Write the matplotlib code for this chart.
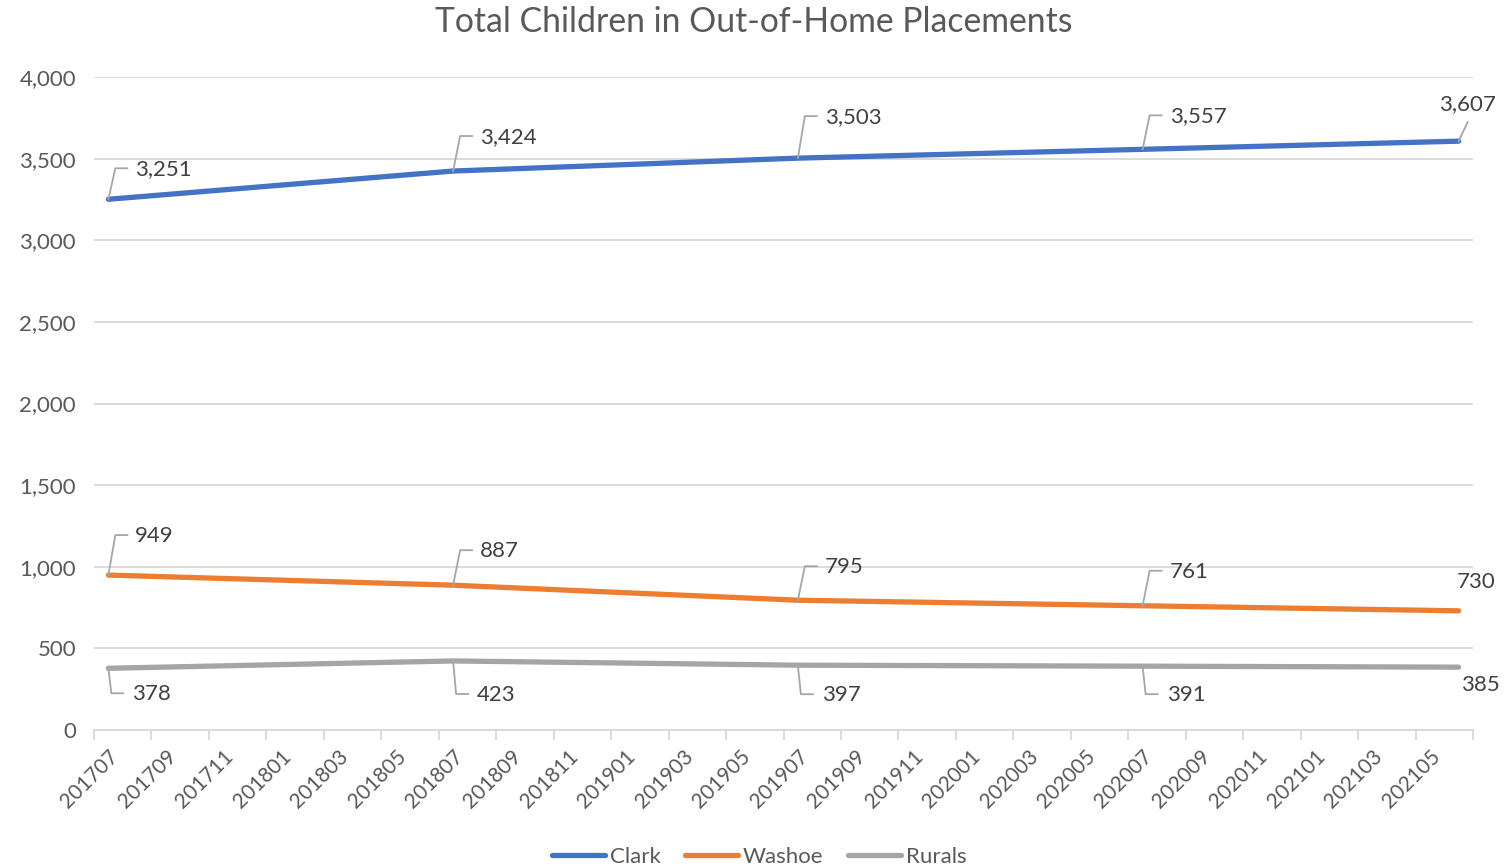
import matplotlib
matplotlib.use("Agg")
import matplotlib.pyplot as plt
import matplotlib.transforms as mtransforms
import pandas as pd

# categories on the x axis (every month, Excel-style category axis)
months = [p.strftime("%Y%m") for p in pd.period_range("2017-07", "2021-06", freq="M")]

# months that actually have values
point_months = ["201707", "201807", "201907", "202007", "202106"]

clark = [3251, 3424, 3503, 3557, 3607]
washoe = [949, 887, 795, 761, 730]
rurals = [378, 423, 397, 391, 385]

colors = {"Clark": "#4472C4", "Washoe": "#ED7D31", "Rurals": "#A5A5A5"}
text_col = "#595959"
label_col = "#404040"
grid_col = "#D9D9D9"
leader_col = "#A6A6A6"

# vertical label offsets in pixels (layout only, as Excel placed them)
clark_dy = [30, 34, 41, 33]
washoe_dy = [39, 34, 33, 34]
rurals_dy = [-26, -34, -30, -29]

plt.rcParams["font.family"] = ["Lato", "DejaVu Sans"]
FS = 16

fig = plt.figure(figsize=(15.09, 8.67), dpi=100)
ax = fig.add_axes([94 / 1509, 1 - 730 / 867, (1473 - 94) / 1509, (730 - 77) / 867])

xpos = [months.index(m) for m in point_months]

for name, vals in [("Clark", clark), ("Washoe", washoe), ("Rurals", rurals)]:
    ax.plot(xpos, vals, color=colors[name], lw=3.8, solid_capstyle="round",
            solid_joinstyle="round", label=name, zorder=3)


def leader(x, y, pts):
    # pts are pixel offsets from the data point
    tr = fig.dpi_scale_trans + mtransforms.ScaledTranslation(x, y, ax.transData)
    xs = [p[0] / 100 for p in pts]
    ys = [p[1] / 100 for p in pts]
    ax.plot(xs, ys, transform=tr, color=leader_col, lw=1.3, zorder=4, clip_on=False)


def label(x, y, v, dx, dy, ha="left"):
    ax.annotate(f"{v:,}", (x, y), xytext=(dx * 0.72, dy * 0.72), textcoords="offset points",
                ha=ha, va="center", fontsize=FS, color=label_col, zorder=5)


for i, (x, v) in enumerate(zip(xpos, clark)):
    if i < len(xpos) - 1:
        d = clark_dy[i]
        leader(x, v, [(0, 0), (7, d + 1), (19, d + 1)])
        label(x, v, v, 27, d)
    else:
        leader(x, v, [(0, 0), (9, 19)])
        label(x, v, v, 9, 37, ha="center")

for i, (x, v) in enumerate(zip(xpos, washoe)):
    if i < len(xpos) - 1:
        d = washoe_dy[i]
        leader(x, v, [(0, 0), (7, d + 1), (19, d + 1)])
        label(x, v, v, 27, d)
    else:
        label(x, v, v, 17, 29, ha="center")

for i, (x, v) in enumerate(zip(xpos, rurals)):
    if i < len(xpos) - 1:
        d = rurals_dy[i]
        leader(x, v, [(0, 0), (3, d + 1), (15, d + 1)])
        label(x, v, v, 24, d)
    else:
        label(x, v, v, 22, -18, ha="center")

ax.set_xlim(-0.5, len(months) - 0.5)
ax.set_ylim(0, 4000)
ax.set_yticks(range(0, 4001, 500))
ax.yaxis.set_major_formatter(matplotlib.ticker.FuncFormatter(lambda v, p: f"{int(v):,}"))
ax.grid(axis="y", color=grid_col, lw=1.3, zorder=0)
ax.set_axisbelow(True)

ax.set_xticks(range(0, len(months), 2))
ax.set_xticklabels(months[::2], rotation=45, ha="right", rotation_mode="anchor")
ax.set_xticks([i - 0.5 for i in range(0, len(months) + 1, 2)], minor=True)
ax.tick_params(axis="x", which="major", length=0, pad=12, labelsize=15, labelcolor=text_col)
ax.tick_params(axis="x", which="minor", length=7, width=1.3, color=grid_col)
ax.tick_params(axis="y", length=0, pad=13, labelsize=FS, labelcolor=text_col)

for s in ["top", "right", "left"]:
    ax.spines[s].set_visible(False)
ax.spines["bottom"].set_color(grid_col)
ax.spines["bottom"].set_linewidth(1.3)

fig.text(0.4993, 1 - 22 / 867, "Total Children in Out-of-Home Placements", ha="center", va="center",
         fontsize=24.3, color=text_col)

fig.legend(loc="center", bbox_to_anchor=(0.503, 1 - 857 / 867), ncol=3, frameon=False,
           fontsize=FS, handlelength=2.4, handletextpad=0.2, columnspacing=1.1,
           labelcolor=text_col)

fig.savefig("out.png", dpi=100)
